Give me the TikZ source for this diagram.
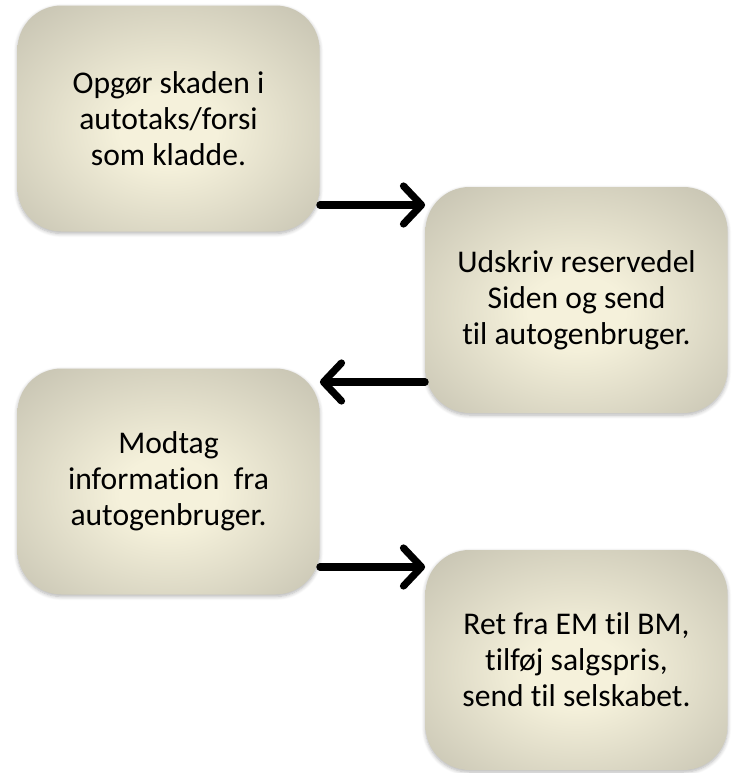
\documentclass[tikz,border=0pt]{standalone}
\usepackage{fontspec}
\setmainfont{Carlito}[Ligatures=NoCommon]
\usetikzlibrary{arrows.meta,shadows.blur}
\definecolor{boxedge}{RGB}{148,145,132}
\definecolor{boxside}{RGB}{174,171,156}
\definecolor{boxcore}{RGB}{245,241,219}
\pgfdeclareradialshading{boxglow}{\pgfpoint{0bp}{-3bp}}{color(0bp)=(boxcore); color(8bp)=(boxcore);
  color(50bp)=(boxside); color(72bp)=(boxedge)}
\begin{document}
\begin{tikzpicture}[x=0.5pt,y=-0.5pt,>={Straight Barb[length=9pt,width=19pt,round]}]
  \def\w{151pt}
  \def\h{113pt}

\tikzstyle{stepbox}=[rounded corners=22pt,minimum width=\w,minimum height=\h,inner sep=0pt,
  align=center,font=\fontsize{15.8}{18}\selectfont,shading=boxglow,
  blur shadow={shadow xshift=0pt,shadow yshift=-1pt,shadow blur steps=6,shadow opacity=30}]
\tikzstyle{flow}=[->,line width=3.6pt,line cap=round]
\useasboundingbox (0,0) rectangle (732,773);
\node[stepbox][] (S1) at (168.5,118.5) {Opgør skaden i\\autotaks/forsi\\som kladde.};
\node[stepbox][] (S2) at (576.5,300) {Udskriv reservedel\\Siden og send\\til autogenbruger.};
\draw[flow] (S1.east |- 0,205) -- (S2.west |- 0,205);
\node[stepbox][] (S3) at (168.5,481.5) {Modtag\\information\ \ fra\\autogenbruger.};
\draw[flow] (S2.west |- 0,382) -- (S3.east |- 0,382);
\node[stepbox][minimum height=110pt] (S4) at (576.5,660) {Ret fra EM til BM,\\tilføj salgspris,\\send til selskabet.};
\draw[flow] (S3.east |- 0,567) -- (S4.west |- 0,567);
\end{tikzpicture}
\end{document}
